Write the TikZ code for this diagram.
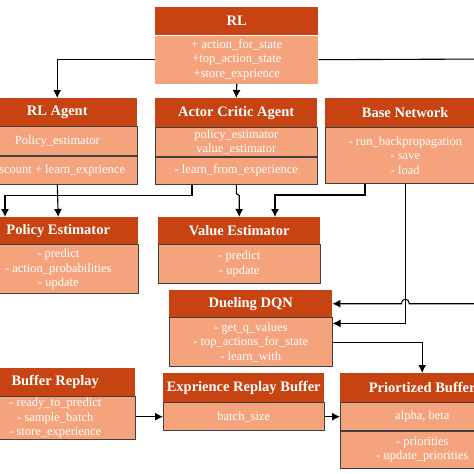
\documentclass[tikz,border=0pt]{standalone}
\usepackage{fontspec}
\setmainfont{Liberation Serif}
\usetikzlibrary{arrows.meta}
\definecolor{hdrc}{RGB}{199,67,17}
\definecolor{bodyc}{RGB}{244,163,125}
\begin{document}
\begin{tikzpicture}[x=1pt,y=-1pt,
 hdr/.style={rectangle, fill=hdrc, text=white, font=\fontsize{14.5}{16}\selectfont\bfseries, inner sep=0pt, anchor=north west, align=center},
 bod/.style={rectangle, fill=bodyc, draw=black!75, line width=0.6pt, text=white, font=\fontsize{12.5}{14.5}\selectfont, inner sep=0pt, anchor=north west, align=center},
 arr/.style={draw=black, line width=1.1pt, -{Latex[length=8pt,width=8pt]}},
 ln/.style={draw=black, line width=1.1pt}]
\useasboundingbox (0,0) rectangle (474,474);
\fill[white] (0,0) rectangle (474,474);

% RL
\node[hdr, minimum width=163, minimum height=28] (rl) at (155,7) {RL};
\node[bod, draw=none, minimum width=163, minimum height=48] (rlb) at (rl.south west) {+ action\_for\_state\\+top\_action\_state\\+store\_exprience};

% RL Agent
\node[hdr, minimum width=160, minimum height=28] (ra) at (-23,98) {RL Agent};
\node[bod, minimum width=160, minimum height=29] (rab1) at (ra.south west) {Policy\_estimator};
\node[bod, minimum width=160, minimum height=28] (rab2) at (rab1.south west) {discount + learn\_exprience};

% Actor Critic Agent
\node[hdr, minimum width=162, minimum height=29] (aca) at (155,98) {Actor Critic Agent};
\node[bod, minimum width=162, minimum height=29] (acab1) at (aca.south west) {policy\_estimator\\value\_estimator};
\node[bod, minimum width=162, minimum height=27] (acab2) at (acab1.south west) {- learn\_from\_experience};

% Base Network
\node[hdr, minimum width=160, minimum height=29] (bn) at (325,98) {Base Network};
\node[bod, minimum width=160, minimum height=56] (bnb) at (bn.south west) {- run\_backpropagation\\- save\\- load};

% Policy Estimator
\node[hdr, minimum width=160, minimum height=27] (pe) at (-22,217) {Policy Estimator};
\node[bod, minimum width=160, minimum height=49] (peb) at (pe.south west) {- predict\\- action\_probabilities\\- update};

% Value Estimator
\node[hdr, minimum width=162, minimum height=27] (ve) at (158,217) {Value Estimator};
\node[bod, minimum width=162, minimum height=39] (veb) at (ve.south west) {- predict\\- update};

% Dueling DQN
\node[hdr, minimum width=163, minimum height=27] (dq) at (169,290) {Dueling DQN};
\node[bod, minimum width=163, minimum height=49] (dqb) at (dq.south west) {- get\_q\_values\\- top\_actions\_for\_state\\- learn\_with};

% Buffer Replay
\node[hdr, minimum width=160, minimum height=28] (br) at (-25,368) {Buffer Replay};
\node[bod, minimum width=160, minimum height=43] (brb) at (br.south west) {- ready\_to\_predict\\- sample\_batch\\- store\_experience};

% Exprience Replay Buffer
\node[hdr, minimum width=161, minimum height=29] (er) at (163,373) {Exprience Replay Buffer};
\node[bod, minimum width=161, minimum height=28] (erb) at (er.south west) {batch\_size};

% Priortized Buffer
\node[hdr, minimum width=164, minimum height=29] (pb) at (340,373) {Priortized Buffer};
\node[bod, minimum width=164, minimum height=28] (pbb1) at (pb.south west) {alpha, beta};
\node[bod, minimum width=164, minimum height=37] (pbb2) at (pbb1.south west) {- priorities\\- update\_priorities};

% connectors
\coordinate (rr) at (495,59);
\path (bnb.south |- dq.east) coordinate (hopc);
\coordinate (hopR) at ([xshift=4pt]hopc);
\coordinate (hopL) at ([xshift=-4pt]hopc);
\coordinate (dqin) at ([yshift=-6pt]dqb.north east);

\draw[arr] (rlb.west) -| (ra.north);
\draw[arr] (rlb.south) -- (aca.north);
\draw[arr] (rlb.east) -- (rr) |- (hopR) .. controls +(0,-6) and +(0,-6) .. (hopL) -- (dq.east);

\draw[arr] (rab2.south) -- (pe.north);
\draw[arr] ([xshift=37pt]acab2.south west) -- ++(0,11) -| ([xshift=27pt]pe.north west);
\draw[arr] (acab2.south) -- ++(0,9) -- ++(3,2) -- (ve.north);
\draw[arr] ([xshift=40pt]bnb.south west) -- ++(0,11) -| ([xshift=117pt]ve.north west);
\draw[arr] (bnb.south) |- (dqin);

\draw[arr] (dqb.east) -| (pb.north);
\draw[arr] (brb.east |- erb.west) -- (erb.west);
\draw[arr] (erb.east) -- (pbb1.west);
\end{tikzpicture}
\end{document}
